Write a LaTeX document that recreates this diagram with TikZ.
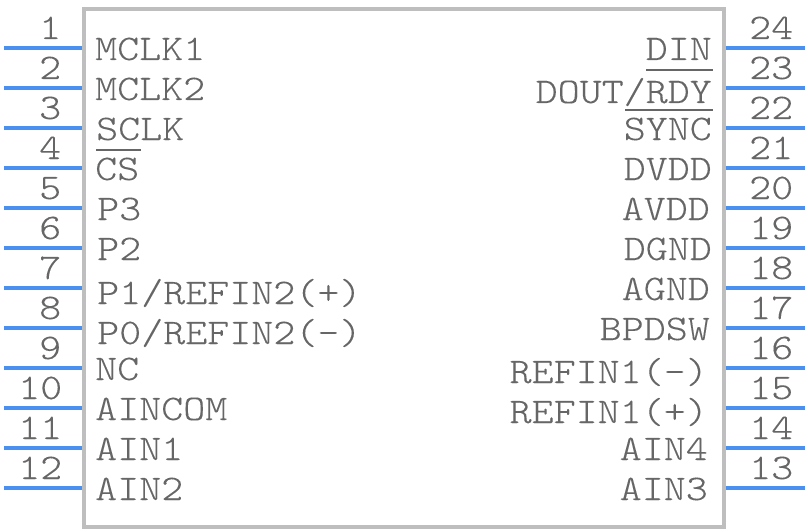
\documentclass[tikz,border=0pt]{standalone}
\usepackage{fontspec}
\newfontfamily\pinfont[FakeStretch=1.165,FakeBold=0.15]{Latin Modern Mono Light}
\definecolor{pinblue}{HTML}{4A90F0}
\definecolor{bodygray}{HTML}{BEBEBE}
\definecolor{textgray}{HTML}{666666}
\tikzset{
  x=1pt,y=-1pt,
  pinline/.style={draw=pinblue,line width=3.6pt},
  bodybox/.style={draw=bodygray,line width=4pt},
  lbl/.style={font=\pinfont\fontsize{36}{36}\selectfont,text=textgray,inner sep=0pt,anchor=base west},
  lblr/.style={lbl,anchor=base east},
  barline/.style={draw=textgray,line width=2pt},
}
\begin{document}
\begin{tikzpicture}
\useasboundingbox (0,0) rectangle (808,532);
\fill[white] (0,0) rectangle (808,532);
\draw[bodybox] (84,9) rectangle (723.5,527);
\foreach \n/\y/\tx in {1/48/39,2/88/39,3/128/39,4/168/39,5/208/39,6/248/39,7/288/39,8/328/39,9/368/39,10/408/18,11/448/18,12/488/18}{
  \coordinate (la\n) at (4,\y);
  \coordinate (lb\n) at (82,\y);
  \draw[pinline] (la\n) -- (lb\n);
  \node[lbl] (ln\n) at (\tx,\y-9) {\n};
}
\foreach \n/\y in {24/48,23/88,22/128,21/168,20/208,19/248,18/288,17/328,16/368,15/408,14/448,13/488}{
  \coordinate (ra\n) at (725.5,\y);
  \coordinate (rb\n) at (805,\y);
  \draw[pinline] (ra\n) -- (rb\n);
  \node[lbl] (rn\n) at (749,\y-9) {\n};
}
\node[lbl] (t1) at (95,60) {MCLK1};
\node[lbl] (t2) at (95,100) {MCLK2};
\node[lbl] (t3) at (96,140) {SCLK};
\node[lbl] (t4) at (95,180) {CS};
\node[lbl] (t5) at (97,220) {P3};
\node[lbl] (t6) at (97,260) {P2};
\node[lbl] (t7) at (97,304) {P1/REFIN2(+)};
\node[lbl] (t8) at (97,344) {P0/REFIN2(-)};
\node[lbl] (t9) at (95,380) {NC};
\node[lbl] (t10) at (95,420) {AINCOM};
\node[lbl] (t11) at (95,460) {AIN1};
\node[lbl] (t12) at (95,500) {AIN2};
\node[lblr] (t24) at (712,60) {DIN};
\node[lblr] (t23) at (712,103) {DOUT/RDY};
\node[lblr] (t22) at (712,140) {SYNC};
\node[lblr] (t21) at (712,180) {DVDD};
\node[lblr] (t20) at (710,220) {AVDD};
\node[lblr] (t19) at (712,260) {DGND};
\node[lblr] (t18) at (710,300) {AGND};
\node[lblr] (t17) at (710,340) {BPDSW};
\node[lblr] (t16) at (708,383) {REFIN1(-)};
\node[lblr] (t15) at (708,423) {REFIN1(+)};
\node[lblr] (t14) at (708,460) {AIN4};
\node[lblr] (t13) at (708,500) {AIN3};
\draw[barline] (96,150) -- (141,150);
\draw[barline] (646,70) -- (713,70);
\draw[barline] (625,110) -- (713,110);
\end{tikzpicture}
\end{document}
